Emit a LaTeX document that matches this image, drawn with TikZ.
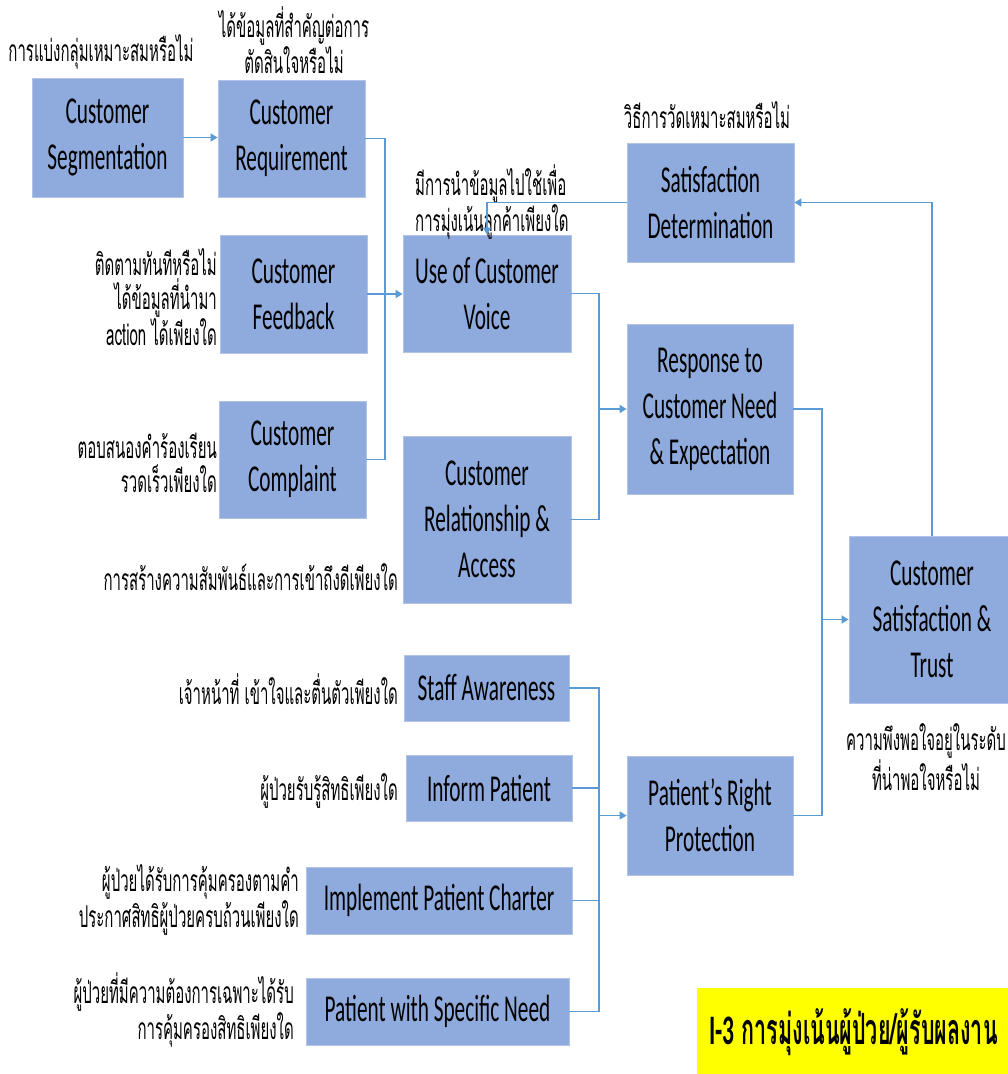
\documentclass[tikz,border=0pt]{standalone}
\usepackage{fontspec}
\usetikzlibrary{arrows.meta}
\newfontfamily\boxfont{Carlito}[FakeStretch=0.56]
\newfontfamily\thaifont{Loma}[Script=Thai,FakeStretch=0.5]
\definecolor{boxblue}{RGB}{143,170,220}
\definecolor{linkblue}{RGB}{91,155,213}
\definecolor{titlebg}{RGB}{255,255,0}

\begin{document}
\begin{tikzpicture}[x=1pt,y=-1pt,
  box/.style={rectangle, fill=boxblue, draw=boxblue!70!white, line width=0.8pt,
              inner sep=2pt, align=center,
              font={\boxfont\fontsize{38}{46}\selectfont}},
  note/.style={inner sep=0pt, font={\thaifont\fontsize{30}{34}\selectfont}},
  link/.style={draw=linkblue, line width=1.5pt},
  tip/.style={link, -{Triangle[length=7pt,width=8pt]}}
]
\useasboundingbox (0,0) rectangle (1008,1074);
\fill[white] (0,0) rectangle (1008,1074);

% ---- boxes ----
\node[box, minimum width=151pt, minimum height=119pt] (seg)  at (107.5,137.5) {Customer\\Segmentation};
\node[box, minimum width=147pt, minimum height=117pt] (req)  at (291.5,138.5) {Customer\\Requirement};
\node[box, minimum width=147pt, minimum height=118pt] (fb)   at (293.5,294)   {Customer\\Feedback};
\node[box, minimum width=147pt, minimum height=117pt] (comp) at (292.5,459.5) {Customer\\Complaint};
\node[box, minimum width=168pt, minimum height=117pt] (ucv)  at (487,293.5)   {Use of Customer\\Voice};
\node[box, minimum width=168pt, minimum height=167pt] (cra)  at (487,519.5)   {Customer\\Relationship \&\\Access};
\node[box, minimum width=167pt, minimum height=119pt] (sd)   at (710.5,202.5) {Satisfaction\\Determination};
\node[box, minimum width=166pt, minimum height=170pt] (resp) at (710,409)     {Response to\\Customer Need\\\& Expectation};
\node[box, minimum width=166pt, minimum height=167pt] (cst)  at (932,619.5)   {Customer\\Satisfaction \&\\Trust};
\node[box, minimum width=165pt, minimum height=66pt]  (sa)   at (486.5,688)   {Staff Awareness};
\node[box, minimum width=166pt, minimum height=66pt]  (ip)   at (489,788)     {Inform Patient};
\node[box, minimum width=266pt, minimum height=67pt]  (ipc)  at (439,900.5)   {Implement Patient Charter};
\node[box, minimum width=263pt, minimum height=67pt]  (psn)  at (437.5,1011.5){Patient with Specific Need};
\node[box, minimum width=166pt, minimum height=119pt] (prp)  at (710,815.5)   {Patient’s Right\\Protection};

% ---- notes ----
\node[note] (n-seg) at (101,52) {การแบ่งกลุ่มเหมาะสมหรือไม่};
\node[note, align=center] (n-req) at (294,40) {ได้ข้อมูลที่สำคัญต่อการ\\ตัดสินใจหรือไม่};
\node[note, align=right, anchor=east] (n-fb) at (217,297) {ติดตามทันทีหรือไม่\\ได้ข้อมูลที่นำมา\\action ได้เพียงใด};
\node[note, align=right, anchor=east] (n-comp) at (217,463) {ตอบสนองคำร้องเรียน\\รวดเร็วเพียงใด};
\node[note, align=left, anchor=west] (n-ucv) at (415,202) {มีการนำข้อมูลไปใช้เพื่อ\\การมุ่งเน้นลูกค้าเพียงใด};
\node[note] (n-sd) at (707,115) {วิธีการวัดเหมาะสมหรือไม่};
\node[note, anchor=east] (n-cra) at (398,577) {การสร้างความสัมพันธ์และการเข้าถึงดีเพียงใด};
\node[note, align=center] (n-cst) at (926,757) {ความพึงพอใจอยู่ในระดับ\\ที่น่าพอใจหรือไม่};
\node[note, anchor=east] (n-sa) at (398,689) {เจ้าหน้าที่ เข้าใจและตื่นตัวเพียงใด};
\node[note, anchor=east] (n-ip) at (398,791) {ผู้ป่วยรับรู้สิทธิเพียงใด};
\node[note, align=right, anchor=east] (n-ipc) at (299,900) {ผู้ป่วยได้รับการคุ้มครองตามคำ\\ประกาศสิทธิผู้ป่วยครบถ้วนเพียงใด};
\node[note, align=right, anchor=east] (n-psn) at (294,1010) {ผู้ป่วยที่มีความต้องการเฉพาะได้รับ\\การคุ้มครองสิทธิเพียงใด};

% ---- title ----
\node[fill=titlebg, inner sep=0pt, minimum width=313pt, minimum height=88pt] (title) at (853.5,1032)
  {{\boxfont\bfseries\fontsize{42}{46}\selectfont I-3}\hspace{7pt}{\thaifont\bfseries\fontsize{43}{46}\selectfont การมุ่งเน้นผู้ป่วย/ผู้รับผลงาน}};

% ---- connectors ----
\draw[tip] (seg.east) -- (seg.east -| req.west);

\coordinate (j1) at (385,294);
\draw[link] (req.east) -| (j1);
\draw[link] (comp.east) -| (j1);
\draw[tip] (fb.east) -- (fb.east -| ucv.west);

\coordinate (j2) at (599,409);
\draw[link] (ucv.east) -| (j2);
\draw[link] (cra.east) -| (j2);
\draw[tip] (j2) -- (j2 -| resp.west);

\coordinate (j3) at (822,619.5);
\draw[link] (resp.east) -| (j3);
\draw[link] (prp.east) -| (j3);
\draw[tip] (j3) -- (j3 -| cst.west);

\coordinate (j4) at (599,815.5);
\draw[link] (sa.east) -| (j4);
\draw[link] (ip.east) -| (j4);
\draw[link] (ipc.east) -| (j4);
\draw[link] (psn.east) -| (j4);
\draw[tip] (j4) -- (j4 -| prp.west);

\draw[tip] (cst.north) |- (sd.east);
\draw[tip] (sd.west) -| (ucv.north);
\end{tikzpicture}
\end{document}
